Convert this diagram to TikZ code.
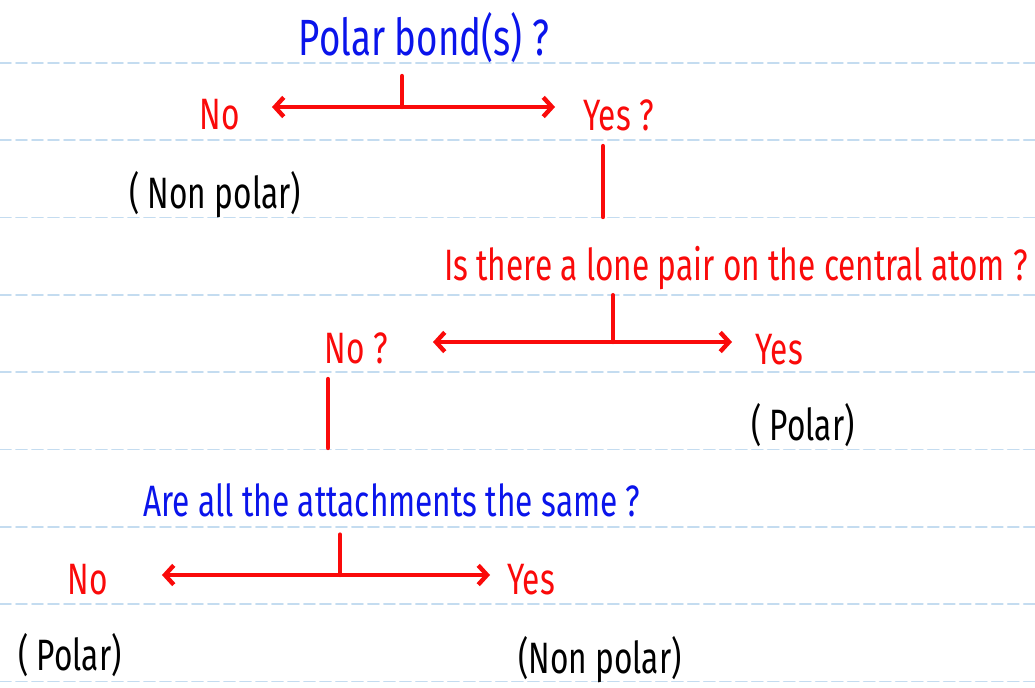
\documentclass[tikz,border=0pt]{standalone}
\usepackage{fontspec}
\newfontfamily\handfont[FakeStretch=0.72]{Fira Sans}
\usetikzlibrary{arrows.meta}
\definecolor{penred}{RGB}{250,10,10}
\definecolor{penblue}{RGB}{10,20,235}
\definecolor{ruleblue}{RGB}{196,220,240}

\begin{document}
\begin{tikzpicture}[line cap=round,line join=round,x=0.02cm,y=-0.02cm,
	hand/.style={font=\handfont\fontsize{25}{28}\selectfont,inner sep=0pt},
	bighand/.style={font=\handfont\fontsize{29}{32}\selectfont,inner sep=0pt},
	link/.style={color=penred,line width=2.5pt},
	tip/.style={-{Straight Barb[length=5pt,width=11pt]}}]
	\useasboundingbox (0,0) rectangle (1035,687);
	\foreach \y in {63,140.3,...,690}
		\draw[ruleblue,line width=1pt,dash pattern=on 0.22cm off 0.1cm] (0,\y) -- (1035,\y);
	% first question
	\node[bighand,penblue] (q1) at (424,38) {Polar bond(s) ?};
	\node[hand,penred,anchor=east] (no1) at (240,115) {No};
	\node[hand,penred,anchor=west] (yes1) at (583,115) {Yes ?};
	\node[hand] (np1) at (215,195) {( Non polar)};
	\coordinate (j1) at (402,107);
	\draw[link,shorten <=0.25cm] (j1 |- q1.south) -- (j1);
	\draw[link,tip,shorten >=0.64cm] (j1) -- (j1 -| no1.east);
	\draw[link,tip,shorten >=0.56cm] (j1) -- (j1 -| yes1.west);
	\coordinate (d1) at (603,217);
	\draw[link,shorten <=0.3cm] (d1 |- yes1.south) -- (d1);
	% second question
	\node[hand,penred] (q2) at (736,268) {Is there a lone pair on the central atom ?};
	\node[hand,penred,anchor=east] (no2) at (388,348) {No ?};
	\node[hand,penred,anchor=west] (yes2) at (755,350) {Yes};
	\node[hand] (p2) at (803,425) {( Polar)};
	\coordinate (j2) at (613,342);
	\draw[link,shorten <=0.1cm] (j2 |- q2.south) -- (j2);
	\draw[link,tip,shorten >=0.9cm] (j2) -- (j2 -| no2.east);
	\draw[link,tip,shorten >=0.46cm] (j2) -- (j2 -| yes2.west);
	\coordinate (d2) at (328,448);
	\draw[link,shorten <=0.3cm] (d2 |- no2.south) -- (d2);
	% third question
	\node[hand,penblue] (q3) at (392,500) {Are all the attachments the same ?};
	\node[hand,penred,anchor=east] (no3) at (108,580) {No};
	\node[hand,penred,anchor=west] (yes3) at (507,580) {Yes};
	\node[hand] (p3) at (70,655) {( Polar)};
	\node[hand] (np3) at (600,660) {(Non polar)};
	\coordinate (j3) at (340,575);
	\draw[link,shorten <=0.35cm] (j3 |- q3.south) -- (j3);
	\draw[link,tip,shorten >=1.08cm] (j3) -- (j3 -| no3.east);
	\draw[link,tip,shorten >=0.34cm] (j3) -- (j3 -| yes3.west);
\end{tikzpicture}
\end{document}
